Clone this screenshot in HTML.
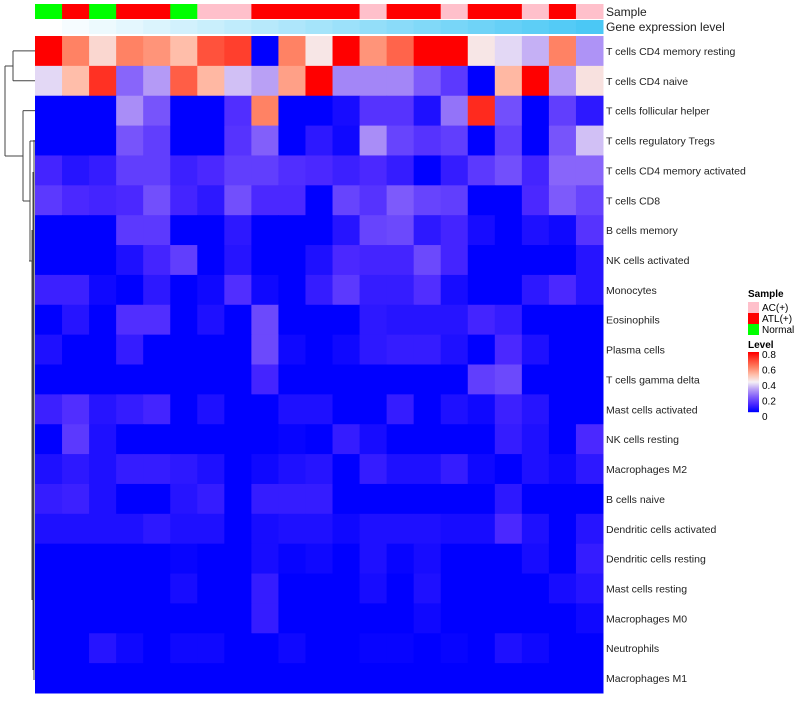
<!DOCTYPE html>
<html><head><meta charset="utf-8"><style>
body{margin:0;background:#fff;font-family:"Liberation Sans",sans-serif;}
svg text{font-family:"Liberation Sans",sans-serif;}
</style></head><body>
<svg id="chart" width="800" height="700" xmlns="http://www.w3.org/2000/svg"></svg>
<script>
const rowLabels=["T cells CD4 memory resting","T cells CD4 naive","T cells follicular helper","T cells regulatory  Tregs","T cells CD4 memory activated","T cells CD8","B cells memory","NK cells activated","Monocytes","Eosinophils","Plasma cells","T cells gamma delta","Mast cells activated","NK cells resting","Macrophages M2","B cells naive","Dendritic cells activated","Dendritic cells resting","Mast cells resting","Macrophages M0","Neutrophils","Macrophages M1"];
const sampleGroups=["Normal","ATL(+)","Normal","ATL(+)","ATL(+)","Normal","AC(+)","AC(+)","ATL(+)","ATL(+)","ATL(+)","ATL(+)","AC(+)","ATL(+)","ATL(+)","AC(+)","ATL(+)","ATL(+)","AC(+)","ATL(+)","AC(+)"];
const geneLevel=[0,0.05,0.1,0.15,0.2,0.25,0.3,0.35,0.4,0.45,0.5,0.55,0.6,0.65,0.7,0.75,0.8,0.85,0.9,0.95,1];
const values=[
[.8,.6,.45,.6,.57,.5,.68,.71,0,.6,.42,.8,.57,.65,.8,.8,.42,.37,.32,.6,.28],
[.37,.5,.73,.21,.29,.66,.51,.34,.3,.55,.8,.26,.26,.26,.19,.13,0,.51,.8,.29,.43],
[0,0,0,.27,.18,0,0,.11,.6,0,0,.03,.12,.12,.04,.23,.74,.17,0,.14,.06],
[0,0,0,.18,.14,0,0,.12,.2,0,.06,.02,.27,.15,.12,.14,0,.14,0,.18,.34],
[.09,.05,.07,.14,.14,.08,.1,.14,.14,.11,.1,.08,.1,.07,0,.07,.13,.17,.09,.21,.21],
[.13,.1,.09,.1,.17,.09,.06,.17,.1,.1,0,.15,.12,.19,.15,.14,0,0,.1,.19,.15],
[0,0,0,.13,.13,0,0,.06,0,0,0,.05,.15,.16,.06,.09,.03,0,.04,.02,.12],
[0,0,0,.04,.09,.14,0,.05,0,0,.04,.1,.09,.09,.16,.09,0,0,0,0,.05],
[.08,.08,.02,0,.06,0,.02,.11,.02,0,.07,.13,.07,.07,.11,.03,0,0,.06,.1,.05],
[0,.05,0,.11,.11,0,.04,0,.16,0,0,0,.06,.05,.05,.05,.09,.07,0,0,0],
[.04,0,0,.07,0,0,0,0,.16,.02,0,.02,.06,.07,.07,.04,0,.1,.04,0,0],
[0,0,0,0,0,0,0,0,.09,0,0,0,0,0,0,0,.14,.16,0,0,0],
[.08,.11,.05,.07,.09,0,.04,0,0,.04,.04,0,0,.07,0,.04,.02,.08,.05,0,0],
[0,.13,.04,0,0,0,0,0,0,.01,0,.07,.03,0,0,0,0,.07,.04,0,.1],
[.04,.06,.04,.07,.07,.06,.04,0,.02,.04,.05,0,.07,.04,.04,.07,.02,0,.04,.02,.06],
[.07,.08,.04,0,0,.05,.07,0,.07,.07,.07,0,0,0,0,0,0,.06,0,0,0],
[.04,.04,.04,.04,.06,.04,.04,0,.03,.04,.04,.02,.04,.04,.04,.03,.03,.1,.04,0,.05],
[0,0,0,0,0,.01,0,0,.03,.01,.02,0,.04,.01,.03,0,0,0,.03,0,.07],
[0,0,0,0,0,.03,0,0,.07,0,0,0,.03,0,.04,0,0,0,0,.03,.05],
[0,0,0,0,0,0,0,0,.07,0,0,0,0,0,.02,0,0,0,0,0,.02],
[0,0,.05,.02,0,.02,.02,0,0,.02,0,0,.01,.01,0,.01,0,.04,.02,0,0],
[0,0,0,0,0,0,0,0,0,0,0,0,0,0,0,0,0,0,0,0,0]
];
const legendTicks=["0.8","0.6","0.4","0.2","0"];
const groupColors={"AC(+)":"#ffc0cb","ATL(+)":"#ff0000","Normal":"#00ff00"};
const stops=[[0,0,0,255],[.1,75,40,255],[.2,130,95,250],[.3,185,160,245],[.4,245,240,245],[.5,255,190,170],[.6,255,130,100],[.7,255,70,50],[.8,255,0,0]];
function col(v){v=Math.max(0,Math.min(.8,v));for(let i=1;i<stops.length;i++){if(v<=stops[i][0]){const a=stops[i-1],b=stops[i],t=(v-a[0])/(b[0]-a[0]);return `rgb(${[1,2,3].map(k=>Math.round(a[k]+(b[k]-a[k])*t)).join(',')})`;}}return 'rgb(255,0,0)';}
function blue(t){return `rgb(${Math.round(255+(75-255)*t)},${Math.round(255+(200-255)*t)},${Math.round(255+(245-255)*t)})`;}
const X0=35,X1=603,Y0=36,Y1=693;
const nC=sampleGroups.length,nR=rowLabels.length,cw=(X1-X0)/nC,rh=(Y1-Y0)/nR;
const xS=c=>X0+c*cw, yS=r=>Y0+r*rh;
const svg=document.getElementById('chart');const NS='http://www.w3.org/2000/svg';
function mk(t,a,p){const e=document.createElementNS(NS,t);for(const k in a)e.setAttribute(k,a[k]);(p||svg).appendChild(e);return e;}
sampleGroups.forEach((g,c)=>{const e=mk('rect',{x:xS(c),y:4,width:cw+0.5,height:15,fill:groupColors[g]});

});
geneLevel.forEach((g,c)=>{const e=mk('rect',{x:xS(c),y:20,width:cw+0.5,height:14,fill:blue(g)});

});
values.forEach((row,r)=>row.forEach((v,c)=>{const e=mk('rect',{x:xS(c),y:yS(r),width:cw+0.5,height:rh+0.5,fill:col(v)});

}));
rowLabels.forEach((l,r)=>{const e=mk('text',{x:606,y:yS(r)+rh/2+4,'font-size':10.5,fill:'#222'});e.textContent=l;

});
let t=mk('text',{x:606,y:16,'font-size':12,fill:'#222'});t.textContent='Sample';
t=mk('text',{x:606,y:31,'font-size':12,fill:'#222'});t.textContent='Gene expression level';
// dendrogram
const dg=mk('g',{stroke:'#444','stroke-width':1,fill:'none'});
const yc=r=>yS(r)+rh/2;
const segs=[[35,yc(0),13,yc(0)],[35,yc(1),13,yc(1)],[13,yc(0),13,yc(1)],[13,66,5,66],[5,66,5,156],[5,156,23,156],
[35,yc(2),23,yc(2)],[23,yc(2),23,201],[23,201,30,201],[30,141,30,261],[35,141,30,141],[29,261,33,261],
[33,172,33,670],[32,230,32,600],[34,140,34,680]];
segs.forEach(s=>mk('line',{x1:s[0],y1:s[1],x2:s[2],y2:s[3]},dg));
// legend
const lg=mk('g',{});
t=mk('text',{x:748,y:297,'font-size':10,'font-weight':'bold',fill:'#000'},lg);t.textContent='Sample';
["AC(+)","ATL(+)","Normal"].forEach((g,i)=>{mk('rect',{x:748,y:302+i*11,width:11,height:11,fill:groupColors[g]},lg);
const e=mk('text',{x:762,y:311+i*11,'font-size':10,fill:'#000'},lg);e.textContent=g;

});
t=mk('text',{x:748,y:348,'font-size':10,'font-weight':'bold',fill:'#000'},lg);t.textContent='Level';
for(let i=0;i<60;i++){mk('rect',{x:748,y:352+i,width:11,height:1.2,fill:col(0.8-i*0.8/59)},lg);}
legendTicks.forEach((l,i)=>{const e=mk('text',{x:762,y:358+i*15.5,'font-size':10,fill:'#000'},lg);e.textContent=l;

});
</script>
</body></html>
